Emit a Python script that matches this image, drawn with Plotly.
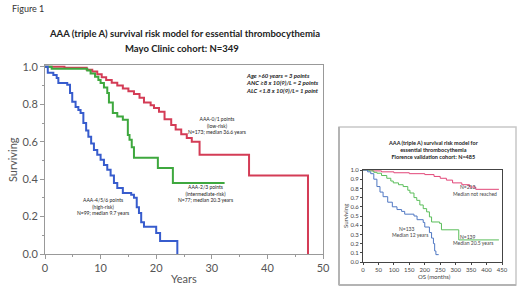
import plotly.graph_objects as go

# ---------------- Main (Mayo) data, years ----------------
low_t = [0, 3.5, 7.5, 8.5, 9.4, 10.2, 11.0, 12.0, 13.0, 14.0, 15.0, 16.0, 17.0, 17.8, 19.0, 19.6, 20.5, 21.5, 22.7, 23.5, 24.5, 25.5, 26.4, 27.8, 36.7, 47.3]
low_s = [1.0, 0.995, 0.985, 0.975, 0.96, 0.945, 0.93, 0.915, 0.90, 0.885, 0.87, 0.855, 0.835, 0.81, 0.795, 0.78, 0.76, 0.72, 0.69, 0.665, 0.64, 0.62, 0.60, 0.53, 0.42, 0.0]

int_t = [0, 1.2, 7.6, 8.2, 9.0, 9.6, 10.0, 10.6, 11.2, 11.5, 12.2, 13.0, 14.0, 14.9, 15.2, 15.6, 16.0, 20.3, 23.0, 32.3]
int_s = [1.0, 0.99, 0.98, 0.965, 0.947, 0.93, 0.914, 0.89, 0.86, 0.81, 0.754, 0.735, 0.717, 0.636, 0.61, 0.57, 0.515, 0.46, 0.38, 0.38]

high_t = [0, 0.5, 1.5, 2.1, 2.4, 4.0, 4.5, 4.9, 5.5, 6.0, 6.4, 6.9, 7.4, 7.8, 8.3, 8.8, 9.4, 10.0, 10.6, 11.2, 11.8, 12.4, 13.0, 14.0, 15.5, 16.0, 16.5, 16.9, 17.3, 17.8, 20.0, 20.7, 23.8]
high_s = [1.0, 0.968, 0.957, 0.94, 0.914, 0.904, 0.86, 0.813, 0.786, 0.77, 0.754, 0.70, 0.66, 0.626, 0.59, 0.556, 0.53, 0.503, 0.475, 0.45, 0.42, 0.38, 0.353, 0.326, 0.316, 0.30, 0.25, 0.219, 0.17, 0.145, 0.112, 0.07, 0.0]

main_xticks = [0, 10, 20, 30, 40, 50]
main_yticks = [0.0, 0.2, 0.4, 0.6, 0.8, 1.0]

# ---------------- Inset (Florence) data, months ----------------
fl_low_t = [0, 30, 60, 100, 150, 200, 230, 250, 270, 290, 320, 345, 365, 440]
fl_low_s = [1.0, 0.99, 0.98, 0.97, 0.96, 0.95, 0.93, 0.91, 0.89, 0.86, 0.84, 0.815, 0.79, 0.79]

fl_int_t = [0, 20, 35, 45, 60, 77, 90, 98, 115, 130, 145, 152, 165, 174, 184, 195, 206, 215, 222, 248, 254, 310, 440]
fl_int_s = [1.0, 0.99, 0.975, 0.965, 0.94, 0.91, 0.88, 0.86, 0.84, 0.82, 0.78, 0.75, 0.70, 0.67, 0.62, 0.58, 0.545, 0.49, 0.435, 0.42, 0.35, 0.24, 0.24]

fl_high_t = [0, 15, 25, 35, 45, 55, 65, 80, 95, 110, 125, 135, 165, 175, 195, 200, 215, 222, 228, 232, 236, 245]
fl_high_s = [1.0, 0.98, 0.96, 0.90, 0.82, 0.76, 0.71, 0.65, 0.60, 0.57, 0.55, 0.52, 0.50, 0.46, 0.43, 0.38, 0.32, 0.26, 0.20, 0.12, 0.08, 0.08]

inset_xticks = list(range(0, 451, 50))
inset_yticks = [i / 10 for i in range(11)]

W, H = 520, 292
def px(x):
    return x / W
def py(y):
    return 1 - y / H

FONT = "Lato"
RED, GREEN, BLUE = "rgb(212,60,86)", "rgb(62,168,62)", "rgb(55,92,205)"
IRED, IGREEN, IBLUE = "rgb(226,70,120)", "rgb(90,190,90)", "rgb(80,120,195)"

fig = go.Figure()
for t, s, c in [(low_t, low_s, RED), (int_t, int_s, GREEN), (high_t, high_s, BLUE)]:
    fig.add_trace(go.Scatter(x=t, y=s, mode="lines", line=dict(color=c, width=2, shape="hv"),
                             xaxis="x", yaxis="y", showlegend=False))
for t, s, c in [(fl_low_t, fl_low_s, IRED), (fl_int_t, fl_int_s, IGREEN), (fl_high_t, fl_high_s, IBLUE)]:
    fig.add_trace(go.Scatter(x=t, y=s, mode="lines", line=dict(color=c, width=1, shape="hv"),
                             xaxis="x2", yaxis="y2", showlegend=False))

fig.update_layout(
    template="none",
    width=W, height=H, margin=dict(l=0, r=0, t=0, b=0, pad=0, autoexpand=False),
    paper_bgcolor="white", plot_bgcolor="white",
    font=dict(family=FONT, color="#444"),
    xaxis=dict(domain=[px(45), px(323)], range=[0, 50], tickvals=main_xticks, automargin=False,
               showgrid=False, zeroline=False, showline=True, linecolor="#999", mirror=True,
               ticks="outside", ticklen=4, tickcolor="#999", tickfont=dict(size=11, color="#555"),
               minor=dict(dtick=5, ticks="outside", ticklen=2, tickcolor="#999"), anchor="y"),
    yaxis=dict(domain=[py(254), py(65)], range=[0, 1.01], tickvals=main_yticks, tickformat=".1f", automargin=False,
               showgrid=False, zeroline=False, showline=True, linecolor="#999", mirror=True,
               ticks="outside", ticklen=4, tickcolor="#999", tickfont=dict(size=11, color="#555"),
               minor=dict(dtick=0.1, ticks="outside", ticklen=2, tickcolor="#999"), anchor="x"),
    xaxis2=dict(domain=[px(363), px(502)], range=[0, 450], tickvals=inset_xticks, automargin=False,
                showgrid=False, zeroline=False, showline=True, linecolor="#444", mirror=True,
                ticks="outside", ticklen=2, tickcolor="#444", tickfont=dict(size=6, color="#444"), anchor="y2"),
    yaxis2=dict(domain=[py(262), py(170)], range=[0, 1.0], tickvals=inset_yticks, tickformat=".1f", automargin=False,
                showgrid=False, zeroline=False, showline=True, linecolor="#444", mirror=True,
                ticks="outside", ticklen=2, tickcolor="#444", tickfont=dict(size=6, color="#444"), anchor="x2"),
)

# inset frame
fig.add_shape(type="rect", xref="paper", yref="paper", x0=px(339), x1=px(516), y0=py(285), y1=py(127),
              line=dict(color="#c8c8c8", width=1.5))
fig.add_shape(type="line", xref="paper", yref="paper", x0=px(339), x1=px(516), y0=py(285), y1=py(285),
              line=dict(color="#b4b4b4", width=2))
fig.add_shape(type="line", xref="paper", yref="paper", x0=px(339), x1=px(339), y0=py(285), y1=py(127),
              line=dict(color="#b4b4b4", width=2))

def ann(x, y, text, size, color="#222", bold=False, italic=False, angle=0, align="center", xanchor="center"):
    if bold:
        text = "<b>" + text + "</b>"
    if italic:
        text = "<i>" + text + "</i>"
    fig.add_annotation(x=px(x), y=py(y), xref="paper", yref="paper", text=text, showarrow=False,
                       font=dict(size=size, color=color, family=FONT), textangle=angle,
                       align=align, xanchor=xanchor, yanchor="middle")

ann(10, 8, "Figure 1", 9, color="#333", xanchor="left")
ann(184, 33, "AAA (triple A) survival risk model for essential thrombocythemia", 9.5, bold=True)
ann(182, 48, "Mayo Clinic cohort: N=349", 9.5, bold=True)
ann(12, 160, "Surviving", 11, color="#555", angle=-90)
ann(184, 278, "Years", 11, color="#555")

risk_lines = ["Age >60 years = 3 points", "ANC \u22658 x 10(9)/L = 2 points", "ALC <1.8 x 10(9)/L= 1 point"]
for i, line in enumerate(risk_lines):
    ann(244, 75 + 7.5 * i, line, 6, bold=True, italic=True, xanchor="left")

ann(217, 126, "AAA-0/1 points<br>(low-risk)<br>N=173; median 36.6 years", 5)
ann(205, 193, "AAA-2/3 points<br>(intermediate-risk)<br>N=77; median 20.3 years", 5)
ann(103, 206, "AAA-4/5/6 points<br>(high-risk)<br>N=99; median 9.7 years", 5)

# inset texts
ann(433, 149.5, "AAA (triple A) survival risk model for<br>essential thrombocythemia<br>Florence validation cohort: N=485", 5.5, bold=True)
ann(345, 216, "Surviving", 6, color="#444", angle=-90)
ann(434, 276, "OS (months)", 6, color="#444")
ann(468, 187, "N=213", 5, color="#444")
ann(475, 193.5, "Median not reached", 5, color="#444")
ann(468, 237, "N=139", 5, color="#444")
ann(473, 243.5, "Median 20.5 years", 5, color="#444")
ann(407, 229, "N=133", 5, color="#444")
ann(410, 235.5, "Median 12 years", 5, color="#444")

fig.write_html("out.html", post_script="document.body.style.margin='0';",
               config={"displayModeBar": False})
